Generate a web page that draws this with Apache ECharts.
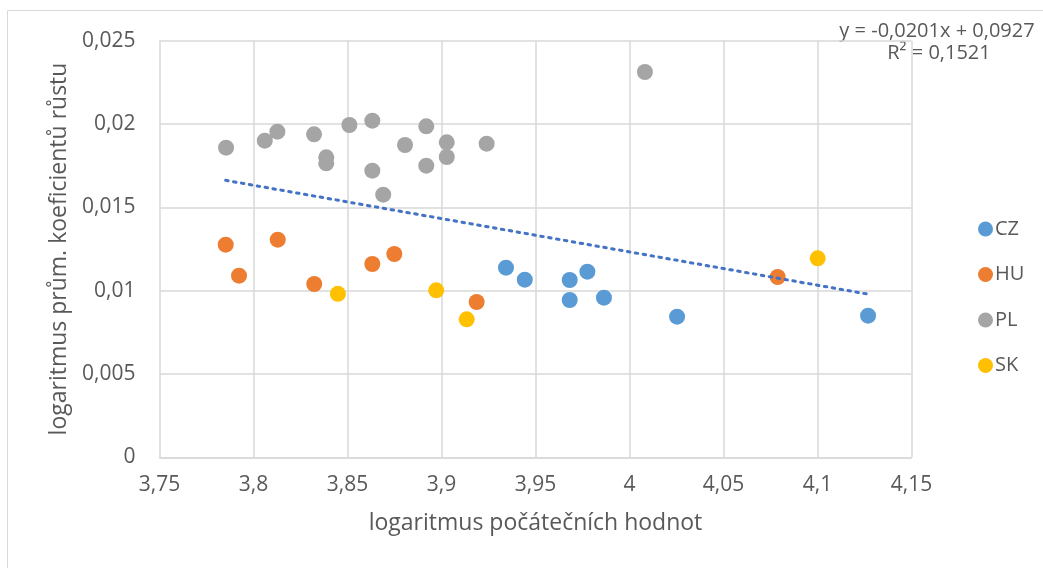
<!DOCTYPE html>
<html>
<head>
<meta charset="utf-8">
<script src="https://cdn.jsdelivr.net/npm/echarts@6/dist/echarts.min.js"></script>
<style>
html,body{margin:0;padding:0;background:#fff;}
#c{width:1043px;height:568px;}
</style>
</head>
<body>
<div id="c"></div>
<script>
// Data
const czX = [3.9343, 3.9443, 3.9682, 3.9776, 3.9682, 3.9864, 4.0253, 4.1269];
const czY = [0.01138, 0.01066, 0.01064, 0.01114, 0.00944, 0.00958, 0.00844, 0.00850];
const huX = [3.7852, 3.7923, 3.8129, 3.8323, 3.8632, 3.8749, 3.9187, 4.0788];
const huY = [0.01276, 0.01090, 0.01306, 0.01040, 0.01160, 0.01220, 0.00932, 0.01082];
const plX = [3.7854, 3.8060, 3.8127, 3.8322, 3.8387, 3.8387, 3.8510, 3.8632, 3.8632, 3.8690, 3.8806, 3.8919, 3.8919, 3.9028, 3.9028, 3.9240, 4.0082];
const plY = [0.01858, 0.01900, 0.01954, 0.01938, 0.01800, 0.01764, 0.01994, 0.02020, 0.01720, 0.01576, 0.01874, 0.01986, 0.01750, 0.01890, 0.01802, 0.01882, 0.02312];
const skX = [3.8449, 3.8972, 3.9134, 4.1001];
const skY = [0.00981, 0.01002, 0.00828, 0.01194];
const trendX = [3.7852, 4.1269];
const trendY = [0.01662, 0.00979];
const seriesNames = ['CZ', 'HU', 'PL', 'SK'];
const xTicks = { min: 3.75, max: 4.15, step: 0.05 };
const yTicks = { min: 0, max: 0.025, step: 0.005 };
const xTitle = 'logaritmus počátečních hodnot';
const yTitle = 'logaritmus prům. koeficientů růstu';
const eqText = 'y = -0,0201x + 0,0927';
const r2Text = 'R² = 0,1521';

const colors = ['#5B9BD5', '#ED7D31', '#A5A5A5', '#FFC000'];
const zip = (a, b) => a.map((v, i) => [v, b[i]]);
const fmt = v => String(+(+v).toFixed(4)).replace('.', ',');
const FONT = '"Open Sans", "Noto Sans", "DejaVu Sans", sans-serif';

const chart = echarts.init(document.getElementById('c'), null, { renderer: 'canvas' });
const scatterData = [zip(czX, czY), zip(huX, huY), zip(plX, plY), zip(skX, skY)];

chart.setOption({
  backgroundColor: '#fff',
  animation: false,
  color: colors,
  grid: { left: 159.5, right: 1043 - 911.5, top: 40.7, bottom: 568 - 457.3, containLabel: false },
  xAxis: {
    type: 'value', min: xTicks.min, max: xTicks.max, interval: xTicks.step,
    name: xTitle, nameLocation: 'middle', nameGap: 55,
    nameTextStyle: { fontFamily: FONT, fontSize: 23, color: '#595959' },
    axisLine: { show: true, lineStyle: { color: '#d9d9d9', width: 1.5 } },
    axisTick: { show: false },
    axisLabel: { formatter: fmt, fontFamily: FONT, fontSize: 21, color: '#595959', margin: 17 },
    splitLine: { show: true, lineStyle: { color: '#d9d9d9', width: 1.5 } }
  },
  yAxis: {
    type: 'value', min: yTicks.min, max: yTicks.max, interval: yTicks.step,
    name: yTitle, nameLocation: 'middle', nameGap: 88, nameRotate: 90,
    nameTextStyle: { fontFamily: FONT, fontSize: 23, color: '#595959' },
    axisLine: { show: false },
    axisTick: { show: false },
    axisLabel: { formatter: fmt, fontFamily: FONT, fontSize: 21, color: '#595959', margin: 24 },
    splitLine: { show: true, lineStyle: { color: '#d9d9d9', width: 1.5 } }
  },
  legend: {
    data: seriesNames, orient: 'vertical', left: 973, top: 214, itemGap: 25.5,
    icon: 'circle', itemWidth: 15, itemHeight: 15, itemStyle: { borderWidth: 0 },
    textStyle: { fontFamily: FONT, fontSize: 20, color: '#595959', padding: [0, 0, 0, -3] }
  },
  graphic: [
    { type: 'rect', shape: { x: 7.5, y: 10.5, width: 1040, height: 560 }, style: { fill: 'none', stroke: '#d9d9d9', lineWidth: 1 }, silent: true },
    { type: 'text', x: 937, y: 31, style: { text: eqText, font: '20px ' + FONT, fill: '#595959', textAlign: 'center', textVerticalAlign: 'middle' } },
    { type: 'text', x: 939, y: 53, style: { text: r2Text, font: '20px ' + FONT, fill: '#595959', textAlign: 'center', textVerticalAlign: 'middle' } }
  ],
  series: seriesNames.map((n, i) => ({
    name: n, type: 'scatter', data: scatterData[i], symbolSize: 16, z: 3,
    itemStyle: { color: colors[i], opacity: 1 }
  })).concat([{
    name: 'trend', type: 'line', data: zip(trendX, trendY), symbol: 'none', z: 4,
    lineStyle: { color: '#4472C4', width: 3, type: [2.5, 5.5], cap: 'round' }
  }])
});
</script>
</body>
</html>
